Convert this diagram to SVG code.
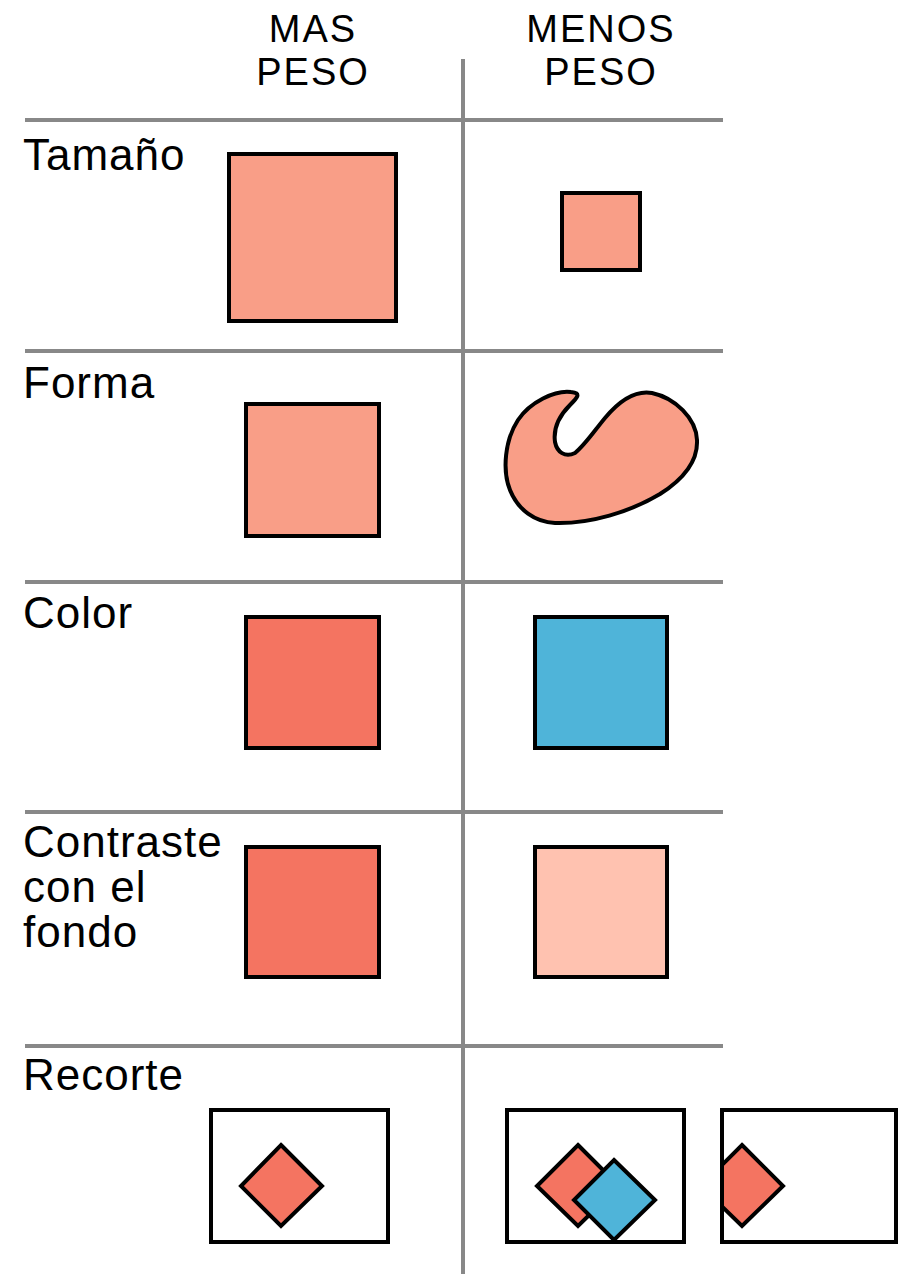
<svg xmlns="http://www.w3.org/2000/svg" width="898" height="1274" viewBox="0 0 898 1274">
<style>
.lbl{font-family:"Liberation Sans",Arial,sans-serif;font-size:44px;letter-spacing:1px;fill:#000}
.hdr{font-family:"Liberation Sans",Arial,sans-serif;font-size:38px;letter-spacing:2px;fill:#000;text-anchor:middle}
.grid{stroke:#888;stroke-width:4;fill:none}
.sh{stroke:#000;stroke-width:4;stroke-linejoin:miter}
.salmon{fill:#F99E87}
.red{fill:#F47461}
.blue{fill:#4FB4D9}
.pale{fill:#FFC2B0}
.frame{fill:#fff;stroke:#000;stroke-width:4}
</style>
<defs>
<clipPath id="clip3"><rect x="722" y="1111" width="174" height="129"/></clipPath>
</defs>
<rect width="898" height="1274" fill="#fff"/>
<g id="grid">
<line class="grid" x1="463" y1="59" x2="463" y2="1274"/>
<line class="grid" x1="25" y1="120" x2="723" y2="120"/>
<line class="grid" x1="25" y1="351" x2="723" y2="351"/>
<line class="grid" x1="25" y1="582" x2="723" y2="582"/>
<line class="grid" x1="25" y1="812" x2="723" y2="812"/>
<line class="grid" x1="25" y1="1046" x2="723" y2="1046"/>
</g>
<g id="header">
<text class="hdr" x="313" y="42">MAS</text>
<text class="hdr" x="313" y="85">PESO</text>
<text class="hdr" x="601" y="42">MENOS</text>
<text class="hdr" x="601" y="85">PESO</text>
</g>
<g id="row-tamano">
<text class="lbl" x="23" y="170">Tamaño</text>
<rect class="sh salmon" x="229" y="154" width="167" height="167"/>
<rect class="sh salmon" x="562" y="193" width="78" height="77"/>
</g>
<g id="row-forma">
<text class="lbl" x="23" y="398">Forma</text>
<rect class="sh salmon" x="246" y="404" width="133" height="132"/>
<path class="sh salmon" stroke-linejoin="round" d="M571,392 C555,390 530,402 518,420 C505,440 502,470 510,490 C518,510 535,522 555,523 C590,524 630,512 660,494 C685,478 698,460 697,440 C696,418 675,398 652,393 C635,390 620,400 605,418 C595,430 585,445 575,453 C565,458 557,452 555,442 C553,428 560,415 570,405 C577,398 582,393 571,392 Z"/>
</g>
<g id="row-color">
<text class="lbl" x="23" y="628">Color</text>
<rect class="sh red" x="246" y="617" width="133" height="131"/>
<rect class="sh blue" x="535" y="617" width="132" height="131"/>
</g>
<g id="row-contraste">
<text class="lbl" x="23" y="857">Contraste</text>
<text class="lbl" x="23" y="902">con el</text>
<text class="lbl" x="23" y="947">fondo</text>
<rect class="sh red" x="246" y="847" width="133" height="130"/>
<rect class="sh pale" x="535" y="847" width="132" height="130"/>
</g>
<g id="row-recorte">
<text class="lbl" x="23" y="1090">Recorte</text>
<rect class="frame" x="211" y="1110" width="177" height="132"/>
<polygon class="sh red" points="281,1145 322,1186 281,1226 241,1186"/>
<rect class="frame" x="507" y="1110" width="177" height="132"/>
<polygon class="sh red" points="578,1145 619,1186 578,1226 537,1186"/>
<polygon class="sh blue" points="614,1160 655,1200 614,1240 574,1200"/>
<rect class="frame" x="722" y="1110" width="174" height="132"/>
<g clip-path="url(#clip3)">
<polygon class="sh red" points="742,1145 783,1186 742,1226 701,1186"/>
</g>
<line x1="722" y1="1110" x2="722" y2="1242" stroke="#000" stroke-width="4"/>
</g>
</svg>
